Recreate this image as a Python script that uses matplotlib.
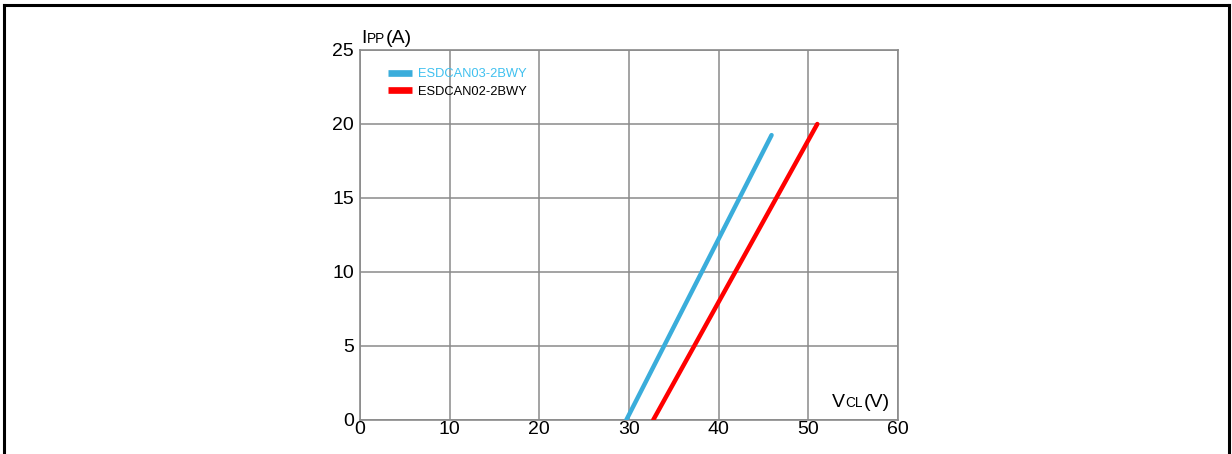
import matplotlib.pyplot as plt
from matplotlib.lines import Line2D

plt.rcParams.update({
    "font.family": ["Liberation Sans", "DejaVu Sans"],
})

# Clamping voltage vs peak pulse current
blue_name = "ESDCAN03-2BWY"
blue_vcl = [29.7, 45.9]
blue_ipp = [0.0, 19.25]

red_name = "ESDCAN02-2BWY"
red_vcl = [32.7, 51.0]
red_ipp = [0.0, 20.0]

x_ticks = [0, 10, 20, 30, 40, 50, 60]
y_ticks = [0, 5, 10, 15, 20, 25]

BLUE = "#3aaddb"
RED = "#ff0000"
GRID = "#8a8a8a"

W, H = 1232, 454
fig = plt.figure(figsize=(W / 100, H / 100), dpi=100)
ax = fig.add_axes([360 / W, 1 - 420 / H, (898 - 360) / W, (420 - 50) / H])

ax.plot(blue_vcl, blue_ipp, color=BLUE, lw=3.2, solid_capstyle="round", label=blue_name, zorder=3)
ax.plot(red_vcl, red_ipp, color=RED, lw=3.2, solid_capstyle="round", label=red_name, zorder=3)

ax.set_xlim(0, 60)
ax.set_ylim(0, 25)
ax.set_xticks(x_ticks)
ax.set_yticks(y_ticks)
ax.grid(True, color=GRID, lw=1.1)
ax.tick_params(length=0, labelsize=14)
ax.tick_params(axis="x", pad=0.5)
ax.tick_params(axis="y", pad=4.5)
for s in ax.spines.values():
    s.set_color(GRID)
    s.set_linewidth(1.2)


def sub_label(x, y, main, sub, tail, size=14, sub_size=9.8):
    # main letter, small subscript on the same baseline, then the unit
    fig.canvas.draw()
    inv = ax.transAxes.inverted()
    t = ax.text(x, y, main, transform=ax.transAxes, fontsize=size, va="baseline", ha="left")
    for txt, fs in [(sub, sub_size), (tail, size)]:
        fig.canvas.draw()
        bb = t.get_window_extent()
        nx = inv.transform((bb.x1 + 0.5, bb.y0))[0]
        t = ax.text(nx, y, txt, transform=ax.transAxes, fontsize=fs, va="baseline", ha="left")


sub_label(0.002, 1.02, "I", "PP", "(A)")
sub_label(0.877, 0.036, "V", "CL", "(V)")

leg = ax.legend(loc="upper left", bbox_to_anchor=(0.052, 0.951), frameon=False, fontsize=9.3,
                handlelength=1.86, handletextpad=0.5, labelspacing=0.41, borderaxespad=0,
                borderpad=0)
leg.get_texts()[0].set_color("#3fc0ef")
for h in leg.legend_handles:
    h.set_linewidth(4.8)
    h.set_solid_capstyle("butt")

# frame around the figure (top, left, right)
fig.add_artist(Line2D([3.5 / W, 1228.5 / W], [1 - 4.5 / H, 1 - 4.5 / H], color="black", lw=2.2))
fig.add_artist(Line2D([3.5 / W, 3.5 / W], [0, 1 - 4.5 / H], color="black", lw=2.2))
fig.add_artist(Line2D([1228.5 / W, 1228.5 / W], [0, 1 - 4.5 / H], color="black", lw=2.2))

fig.savefig("out.png", dpi=100)
